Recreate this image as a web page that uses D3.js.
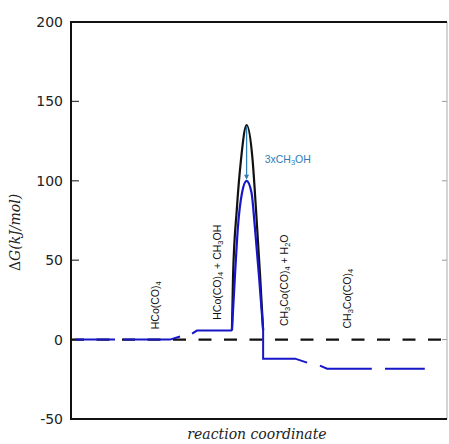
<!DOCTYPE html>
<html>
<head>
<meta charset="utf-8">
<script src="https://cdn.jsdelivr.net/npm/d3@7"></script>
<style>
  body { margin: 0; background: #fff; }
  svg { display: block; }
</style>
</head>
<body>
<div id="chart"></div>
<script>
// y axis ticks
const yTicks = [-50, 0, 50, 100, 150, 200];

// blue path (reaction pathway, NaN = break in the line)
const blueX = [0.11, 1.17, NaN, 1.38, 2.63, 2.90, NaN, 3.22, 3.35, 4.28, NaN, 5.11, 5.11, 5.96, 6.28, NaN, 6.62, 6.81, 8.0, NaN, 8.35, 9.41];
const blueY = [0, 0, NaN, 0, 0, 1.9, NaN, 3.8, 5.7, 5.7, NaN, 6, -12, -12, -14.5, NaN, -16.4, -18.3, -18.3, NaN, -18.3, -18.3];

// transition state barriers
const peakBlueX = [4.28, 4.36, 4.44, 4.55, 4.67, 4.80, 4.89, 5.00, 5.11];
const peakBlueY = [5.7, 40, 71, 92.6, 100, 92.6, 71, 40, 6];
const peakBlackX = [4.28, 4.31, 4.41, 4.52, 4.67, 4.83, 4.92, 5.03, 5.11];
const peakBlackY = [5.7, 40, 82, 113, 135, 113, 82, 40, 6];

// species labels
const labelNames = [
  [["HCo(CO)", ""], ["4", "sub"]],
  [["HCo(CO)", ""], ["4", "sub"], [" + CH", ""], ["3", "sub"], ["OH", ""]],
  [["CH", ""], ["3", "sub"], ["Co(CO)", ""], ["4", "sub"], [" + H", ""], ["2", "sub"], ["O", ""]],
  [["CH", ""], ["3", "sub"], ["Co(CO)", ""], ["4", "sub"]]
];
const labelX = [2.25, 3.9, 5.68, 7.34];
const labelY = [6.5, 12.5, 8.5, 7];

const w = 449;
const h = 444;
const m = { top: 22, right: 2, bottom: 25, left: 71 };

const svg = d3.select("#chart")
  .append("svg")
  .attr("width", w)
  .attr("height", h);

const x = d3.scaleLinear().domain([0, 10]).range([m.left, w - m.right]);
const y = d3.scaleLinear().domain([-50, 200]).range([h - m.bottom, m.top]);

// tick labels on the left
svg.append("g")
  .selectAll("text")
  .data(yTicks)
  .enter()
  .append("text")
  .attr("x", m.left - 8)
  .attr("y", (d) => y(d))
  .attr("dy", "0.36em")
  .attr("text-anchor", "end")
  .attr("font-family", "DejaVu Sans, sans-serif")
  .attr("font-size", 14)
  .attr("fill", "#222")
  .text((d) => d);

// inward ticks, left and right
svg.append("g")
  .selectAll("line")
  .data(yTicks.filter((d) => d > -50 && d < 200))
  .enter()
  .append("line")
  .attr("x1", m.left)
  .attr("x2", m.left + 8)
  .attr("y1", (d) => y(d))
  .attr("y2", (d) => y(d))
  .attr("stroke", "#444")
  .attr("stroke-width", 1.3);

svg.append("g")
  .selectAll("line")
  .data(yTicks.filter((d) => d > -50 && d < 200))
  .enter()
  .append("line")
  .attr("x1", w - m.right)
  .attr("x2", w - m.right - 5)
  .attr("y1", (d) => y(d))
  .attr("y2", (d) => y(d))
  .attr("stroke", "#999")
  .attr("stroke-width", 1);

// zero reference line
svg.append("line")
  .attr("x1", x(0))
  .attr("x2", x(10))
  .attr("y1", y(0))
  .attr("y2", y(0))
  .attr("stroke", "#111")
  .attr("stroke-width", 2.2)
  .attr("stroke-dasharray", "13,12.5");

const line = d3.line()
  .defined((d) => !isNaN(d[0]))
  .x((d) => x(d[0]))
  .y((d) => y(d[1]));

const curve = d3.line()
  .x((d) => x(d[0]))
  .y((d) => y(d[1]))
  .curve(d3.curveMonotoneX);

svg.append("path")
  .datum(peakBlackX.map((d, i) => [d, peakBlackY[i]]))
  .attr("d", curve)
  .attr("fill", "none")
  .attr("stroke", "#111")
  .attr("stroke-width", 2.2);

svg.append("path")
  .datum(peakBlueX.map((d, i) => [d, peakBlueY[i]]))
  .attr("d", curve)
  .attr("fill", "none")
  .attr("stroke", "#1616c8")
  .attr("stroke-width", 2.2);

svg.append("path")
  .datum(blueX.map((d, i) => [d, blueY[i]]))
  .attr("d", line)
  .attr("fill", "none")
  .attr("stroke", "#1616c8")
  .attr("stroke-width", 2);

// arrow black peak -> blue peak
const arrowColor = "#2c7db8";
const peakX = x(peakBlackX[4]);
svg.append("line")
  .attr("x1", peakX)
  .attr("x2", peakX)
  .attr("y1", y(d3.max(peakBlackY)) + 1)
  .attr("y2", y(d3.max(peakBlueY)) - 4)
  .attr("stroke", arrowColor)
  .attr("stroke-width", 1.3);

svg.append("path")
  .attr("d", `M${peakX - 2.5},${y(d3.max(peakBlueY)) - 6}L${peakX},${y(d3.max(peakBlueY)) - 1}L${peakX + 2.5},${y(d3.max(peakBlueY)) - 6}Z`)
  .attr("fill", arrowColor);

svg.append("text")
  .attr("x", x(5.15))
  .attr("y", y(111))
  .attr("font-family", "Liberation Sans, Arial, sans-serif")
  .attr("font-size", 10.5)
  .attr("fill", arrowColor)
  .call((t) => {
    t.append("tspan").text("3xCH");
    t.append("tspan").attr("font-size", 7.5).attr("baseline-shift", -2).text("3");
    t.append("tspan").text("OH");
  });

// rotated species labels
labelNames.forEach((parts, i) => {
  const t = svg.append("text")
    .attr("transform", `translate(${x(labelX[i])},${y(labelY[i])}) rotate(-90)`)
    .attr("dy", "0.35em")
    .attr("font-family", "Liberation Sans, Arial, sans-serif")
    .attr("font-size", 10.5)
    .attr("fill", "#111");
  parts.forEach(([s, kind]) => {
    const sp = t.append("tspan").text(s);
    if (kind === "sub") sp.attr("font-size", 7.5).attr("baseline-shift", -2);
  });
});

// frame
svg.append("line")
  .attr("x1", w - m.right).attr("x2", w - m.right)
  .attr("y1", m.top).attr("y2", h - m.bottom)
  .attr("stroke", "#aaa").attr("stroke-width", 1);

svg.append("path")
  .attr("d", `M${w - m.right},${m.top}H${m.left}V${h - m.bottom}H${w - m.right}`)
  .attr("fill", "none")
  .attr("stroke", "#111")
  .attr("stroke-width", 2);

// axis titles
svg.append("text")
  .attr("transform", `translate(20,${(m.top + h - m.bottom) / 2 + 12}) rotate(-90)`)
  .attr("text-anchor", "middle")
  .attr("font-family", "DejaVu Serif, serif")
  .attr("font-size", 14)
  .attr("fill", "#222")
  .call((t) => {
    t.append("tspan").text("Δ");
    t.append("tspan").attr("font-style", "italic").text("G(kJ/mol)");
  });

svg.append("text")
  .attr("x", (x(0) + x(10)) / 2 - 2)
  .attr("y", h - 5)
  .attr("text-anchor", "middle")
  .attr("font-family", "DejaVu Serif, serif")
  .attr("font-style", "italic")
  .attr("font-size", 14)
  .attr("fill", "#222")
  .text("reaction coordinate");
</script>
</body>
</html>
